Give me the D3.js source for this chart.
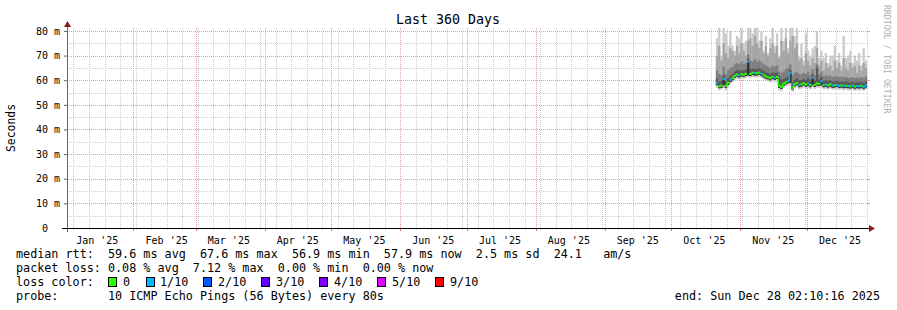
<!DOCTYPE html>
<html><head><meta charset="utf-8">
<script src="https://cdn.jsdelivr.net/npm/d3@7"></script>
<style>
html,body{margin:0;padding:0;background:#fff;}
svg{display:block;}
text{font-family:"DejaVu Sans Mono",monospace;fill:#000;}
</style></head><body>
<svg id="c" width="897" height="310"></svg>
<script>
// ---------- data ----------
const chartTitle = "Last 360 Days";
const yLabel = "Seconds";
const endTime = Date.UTC(2025, 11, 28, 2, 10, 16);
const startTime = endTime - 360 * 86400000;
const dataStart = Date.UTC(2025, 9, 21, 2, 10, 16); // first daily sample
const yTickValues = [0, 10, 20, 30, 40, 50, 60, 70, 80];
const yMaxMs = 81.2;

// daily median rtt (ms)
const median = [58.8,57.5,57.8,60.5,57.6,59.0,60.2,60.8,61.8,62.3,
  62.0,62.4,62.2,62.6,67.6,62.5,63.0,62.9,62.8,63.1,
  62.6,62.0,61.5,61.2,60.8,61.4,61.0,61.3,57.8,57.2,
  58.6,59.2,59.6,63.0,56.9,58.4,58.8,58.0,58.3,58.8,
  58.2,58.6,58.0,61.0,58.1,58.7,58.5,59.5,58.0,58.2,
  57.9,58.3,57.8,57.9,58.1,57.7,57.9,57.6,57.8,57.6,
  57.5,57.8,57.4,57.6,57.5,57.7,57.3,57.9];
// lost pings out of 10 (colour class)
const lossCount = [1,0,0,1,0,0,1,0,0,0, 1,0,0,0,1,0,0,1,0,0,
  1,0,0,0,0,0,1,0,0,0, 0,0,1,1,0,0,0,1,0,0,
  0,1,0,1,0,0,0,1,0,1, 0,0,1,0,1,1,0,1,0,1,
  0,1,0,1,1,0,1,1];
// smoke: sorted ping levels (ms)
const pingMin = [56.8,55.9,56.1,56.9,55.8,57.0,58.4,59.1,60.1,60.6,
  60.3,60.7,60.5,60.9,61.2,60.8,61.3,61.1,61.0,61.4,
  60.9,60.3,59.8,59.5,59.1,59.7,59.3,59.4,55.9,55.5,
  56.8,57.4,57.9,57.8,55.4,56.7,57.1,56.3,56.6,57.1,
  56.5,56.9,56.3,57.2,56.4,57.0,56.8,57.0,56.3,56.5,
  56.2,56.6,56.1,56.2,56.4,56.0,56.2,55.9,56.1,55.9,
  55.8,56.1,55.7,55.9,55.8,56.0,55.6,56.2];
const pingLow = [58.0,56.8,57.0,58.0,56.9,58.1,59.3,60.0,61.0,61.5,
  61.2,61.6,61.4,61.8,62.0,61.7,62.2,62.0,62.0,62.3,
  61.8,61.2,60.7,60.4,60.0,60.6,60.2,60.5,57.0,56.5,
  57.8,58.4,58.8,59.0,56.3,57.6,58.0,57.2,57.5,58.0,
  57.4,57.8,57.2,58.2,57.3,57.9,57.7,58.0,57.2,57.4,
  57.1,57.5,57.0,57.1,57.3,56.9,57.1,56.8,57.0,56.8,
  56.7,57.0,56.6,56.8,56.7,56.9,56.5,57.1];
const pingHigh = [60.6,59.4,59.8,62.1,59.5,60.9,61.9,62.6,63.5,64.1,
  63.8,64.1,64.0,64.4,68.8,64.8,64.7,64.6,64.5,64.8,
  64.4,63.8,63.2,63.0,62.6,63.2,62.9,63.1,61.6,60.2,
  60.5,61.0,61.6,64.2,59.0,60.2,60.8,59.9,60.1,60.6,
  60.0,60.8,59.8,62.6,59.9,64.9,60.3,61.4,59.8,60.0,
  59.6,60.0,59.5,59.6,59.8,59.4,59.6,59.3,59.5,59.2,
  59.1,59.5,59.0,59.3,59.1,59.4,58.9,59.6];
const ping8 = [64.0,62.5,62.0,65.5,62.5,64.0,65.0,65.5,66.5,67.0,
  66.5,67.5,66.5,67.0,70.5,68.0,67.5,68.5,67.5,68.0,
  67.5,66.5,66.0,65.5,65.0,66.0,65.5,66.0,63.5,63.0,
  63.5,64.5,65.0,66.5,62.0,63.0,63.5,62.5,62.5,63.0,
  62.5,63.5,62.0,64.5,62.0,66.5,62.5,63.5,61.5,62.0,
  61.5,62.0,61.3,61.7,61.5,61.3,61.5,61.2,61.3,61.0,
  61.0,61.3,60.9,61.1,61.0,61.2,60.8,61.5];
const ping9 = [70,74,68,75,71,69,73,72,70,74,
  71,75,72,70,76,77,74,78,75,73,
  76,71,74,70,73,75,71,74,69,76,
  72,77,71,76,78,73,75,68,69,66,
  71,68,66,69,67,73,66,68,64,67,
  65,66,64,68,65,67,64,69,65,64,
  67,65,66,63,66,64,67,65];
const pingMax = [77,82,70,84,79,74,80,74,72,78,
  77,81,75,76,84,82,79,84,82,76,
  80,72,78,71,77,82,74,79,70,82,
  76,83,73,82,84,78,81,70,75,68,
  79,72,70,73,74,80,69,72,69,71,
  67,70,70,74,68,71,66,78,69,70,
  72,67,70,68,71,66,73,68];

const lossLevels = ["0","1/10","2/10","3/10","4/10","5/10","9/10"];
const lossThresh = [0,1,2,3,4,5,9];
const lossColors = ["#26ff00","#00b8ff","#0059ff","#5e00ff","#7e00ff","#dd00ff","#ff0000"];

const legendLines = [
  "median rtt:  59.6 ms avg  67.6 ms max  56.9 ms min  57.9 ms now  2.5 ms sd  24.1   am/s",
  "packet loss: 0.08 % avg  7.12 % max  0.00 % min  0.00 % now"
];
const probeText = "probe:       10 ICMP Echo Pings (56 Bytes) every 80s";
const endText = "end: Sun Dec 28 02:10:16 2025";
const watermark = "RRDTOOL / TOBI OETIKER";

// ---------- layout ----------
const L = 67, R = 867, T = 28, B = 228;
const svg = d3.select("#c");
const x = d3.scaleUtc().domain([startTime, endTime]).range([L, R]);
const y = d3.scaleLinear().domain([0, yMaxMs]).range([B, T]);
const DAY = 86400000;

svg.append("defs").append("clipPath").attr("id","pc")
  .append("rect").attr("x",L).attr("y",T).attr("width",R-L+1).attr("height",B-T);

// title
svg.append("text").attr("x",448).attr("y",24).attr("text-anchor","middle")
  .style("font-size","13.3px").text(chartTitle);
// y label
svg.append("text").attr("transform","translate(15,128) rotate(-90)")
  .attr("text-anchor","middle").style("font-size","11.4px").text(yLabel);
// watermark
svg.append("text").attr("transform","translate(884,5) rotate(90)")
  .style("font-size","8.2px").style("fill","#b0b0b0").text(watermark);

// grid
const grid = svg.append("g");
const minorColor = "#cfcfcf", majorColor = "#ec9a9a";
d3.range(5, 81, 5).filter(v => v % 10 !== 0).forEach(v => {
  grid.append("line").attr("x1",L).attr("x2",R+1).attr("y1",Math.round(y(v))+0.5).attr("y2",Math.round(y(v))+0.5)
    .attr("stroke",minorColor).attr("stroke-dasharray","1,1");
});
d3.utcSunday.range(startTime, endTime).forEach(d => {
  const xx = Math.round(x(d))+0.5;
  grid.append("line").attr("x1",xx).attr("x2",xx).attr("y1",T).attr("y2",B)
    .attr("stroke",minorColor).attr("stroke-dasharray","1,1");
  grid.append("line").attr("x1",xx).attr("x2",xx).attr("y1",B).attr("y2",B+2).attr("stroke","#c8c8c8");
});
yTickValues.filter(v => v > 0).forEach(v => {
  grid.append("line").attr("x1",L).attr("x2",R+1).attr("y1",Math.round(y(v))+0.5).attr("y2",Math.round(y(v))+0.5)
    .attr("stroke",majorColor).attr("stroke-dasharray","1,1");
  grid.append("line").attr("x1",R+1).attr("x2",R+3).attr("y1",Math.round(y(v))+0.5).attr("y2",Math.round(y(v))+0.5)
    .attr("stroke",majorColor);
});
const months = d3.utcMonth.range(startTime, endTime);
months.forEach(d => {
  const xx = Math.round(x(d))+0.5;
  grid.append("line").attr("x1",xx).attr("x2",xx).attr("y1",T).attr("y2",B)
    .attr("stroke",majorColor).attr("stroke-dasharray","1,1");
  grid.append("line").attr("x1",xx).attr("x2",xx).attr("y1",B).attr("y2",B+3).attr("stroke","#e07070");
});

// smoke
const plot = svg.append("g").attr("clip-path","url(#pc)");
const dates = median.map((_, i) => dataStart + i * DAY);
const bands = [
  {lo: pingMin, hi: pingMax, c: "#cacaca"},
  {lo: pingLow, hi: ping9, c: "#a4a4a4"},
  {lo: pingLow, hi: ping8, c: "#7e7e7e"},
  {lo: pingLow, hi: pingHigh, c: "#585858"},
  {lo: pingLow, hi: median, c: "#323232"}
];
bands.forEach(b => {
  plot.append("g").selectAll("rect").data(dates).join("rect")
    .attr("x", d => x(d))
    .attr("width", d => x(d + DAY) - x(d) + 0.05)
    .attr("y", (d, i) => y(b.hi[i]))
    .attr("height", (d, i) => Math.max(0, y(b.lo[i]) - y(b.hi[i])))
    .attr("fill", b.c);
});
// median line coloured by loss
const lossColor = n => { let k = 0; lossThresh.forEach((t, j) => { if (n >= t) k = j; }); return lossColors[k]; };
const med = plot.append("g");
dates.forEach((d, i) => {
  const c = lossColor(lossCount[i]);
  if (i > 0 && lossCount[i] === lossCount[i-1]) {
    med.append("line").attr("x1",x(d)).attr("x2",x(d)).attr("y1",y(median[i-1])).attr("y2",y(median[i]))
      .attr("stroke",c).attr("stroke-width",1.5);
  }
  med.append("line").attr("x1",x(d)).attr("x2",x(d+DAY)).attr("y1",y(median[i])).attr("y2",y(median[i]))
    .attr("stroke",c).attr("stroke-width",2);
});

// axes
const yAxis = d3.axisLeft(y).tickValues(yTickValues).tickSize(3).tickPadding(4)
  .tickFormat(d => d === 0 ? "0\u00a0\u00a0" : d + " m");
const gy = svg.append("g").attr("transform",`translate(${L},0)`).call(yAxis);
gy.select(".domain").remove();
gy.selectAll("text").style("font-family","DejaVu Sans Mono, monospace").style("font-size","10px").style("fill","#000");
gy.selectAll("line").attr("stroke","#666");

const labelOffset = 14.7 * DAY;
const xAxis = d3.axisBottom(x).tickValues(months.map(m => m.getTime() + labelOffset))
  .tickSize(0).tickPadding(9).tickFormat(d => d3.utcFormat("%b '%y")(new Date(d - labelOffset)));
const gx = svg.append("g").attr("transform",`translate(0,${B})`).call(xAxis);
gx.select(".domain").remove();
gx.selectAll("text").style("font-family","DejaVu Sans Mono, monospace").style("font-size","10px").style("fill","#000");
// label for January (month begins before the time domain)
const janStart = Date.UTC(2025,0,1);
svg.append("text").attr("x",x(janStart + labelOffset)).attr("y",B+9).attr("dy","0.71em").attr("text-anchor","middle")
  .style("font-size","10px").text(d3.utcFormat("%b '%y")(new Date(janStart)));

// axis lines + arrows
svg.append("line").attr("x1",L+0.5).attr("x2",L+0.5).attr("y1",B+4).attr("y2",T-4).attr("stroke","#666");
svg.append("line").attr("x1",L-5).attr("x2",R+3).attr("y1",B+0.5).attr("y2",B+0.5).attr("stroke","#000");
svg.append("path").attr("d",`M${L-3},${T-1}L${L+4},${T-1}L${L+0.5},${T-7}Z`).attr("fill","#8b1a1a");
svg.append("path").attr("d",`M${R+2},${B-3}L${R+2},${B+4}L${R+8},${B+0.5}Z`).attr("fill","#8b1a1a");

// legend
const lg = svg.append("g").style("font-size","11.76px");
legendLines.forEach((t, i) => {
  lg.append("text").attr("x",16).attr("y",258 + i*14).style("white-space","pre").attr("xml:space","preserve").text(t);
});
lg.append("text").attr("x",16).attr("y",286).text("loss color:");
const boxX = [108,146,203,261,319,377,435], labX = [123,160,218,276,334,392,450];
lossLevels.forEach((lvl, i) => {
  lg.append("rect").attr("x",boxX[i]+0.5).attr("y",277.5).attr("width",8).attr("height",9)
    .attr("fill",lossColors[i]).attr("stroke","#000");
  lg.append("text").attr("x",labX[i]).attr("y",286).text(lvl);
});
lg.append("text").attr("x",16).attr("y",300).style("white-space","pre").attr("xml:space","preserve").text(probeText);
lg.append("text").attr("x",880).attr("y",300).attr("text-anchor","end").text(endText);
</script>
</body></html>
